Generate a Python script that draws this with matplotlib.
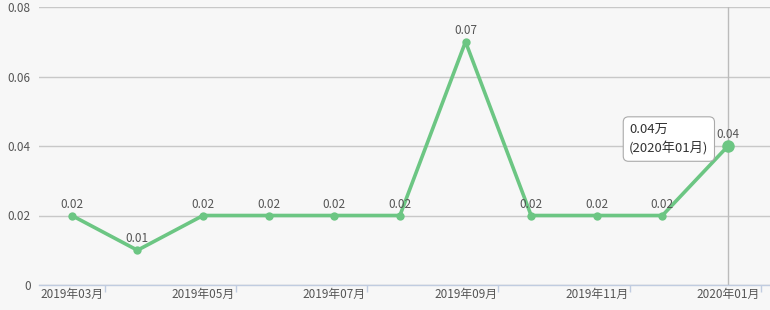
import matplotlib.pyplot as plt
from matplotlib.ticker import FixedLocator, NullFormatter

plt.rcParams['font.family'] = ['Noto Sans CJK SC', 'DejaVu Sans']

# ========== 数据 ==========
months = ['2019年03月', '2019年04月', '2019年05月', '2019年06月', '2019年07月', '2019年08月',
          '2019年09月', '2019年10月', '2019年11月', '2019年12月', '2020年01月']
values = [0.02, 0.01, 0.02, 0.02, 0.02, 0.02, 0.07, 0.02, 0.02, 0.02, 0.04]
yticks = [0, 0.02, 0.04, 0.06, 0.08]
ytick_labels = ['0', '0.02', '0.04', '0.06', '0.08']

LINE_COLOR = '#6cc683'
TEXT_COLOR = '#555555'
BG = '#f7f7f7'

fig = plt.figure(figsize=(7.7, 3.1), dpi=100, facecolor=BG)
ax = fig.add_axes([39 / 770, 25 / 310, 731 / 770, 278 / 310], facecolor=BG)

x = list(range(len(months)))
ax.plot(x, values, color=LINE_COLOR, lw=2.6, marker='o', ms=6,
        markeredgewidth=0, zorder=4, solid_joinstyle='round')
# 最后一个点高亮
ax.plot(x[-1], values[-1], 'o', color=LINE_COLOR, ms=9, markeredgewidth=0, zorder=5)

for i, v in zip(x, values):
    ax.annotate(f'{v:.2f}', (i, v), xytext=(0, 3.5), textcoords='offset points',
                ha='center', va='bottom', fontsize=8.5, color=TEXT_COLOR, zorder=6)

# 坐标轴
ax.set_xlim(-0.5, 10.64)
ax.set_ylim(0, 0.08)
ax.set_yticks(yticks)
ax.set_yticklabels(ytick_labels)
ax.grid(axis='y', color='#c8c8c8', lw=1)
ax.set_axisbelow(True)

ax.xaxis.set_major_locator(FixedLocator(x[::2]))
ax.set_xticklabels(months[::2])
ax.xaxis.set_minor_locator(FixedLocator([i + 0.5 for i in x[::2]]))
ax.xaxis.set_minor_formatter(NullFormatter())
ax.tick_params(axis='x', which='major', length=0, pad=2, labelsize=8.5, labelcolor=TEXT_COLOR)
ax.tick_params(axis='x', which='minor', length=5, color='#c0cce0', width=1)
ax.tick_params(axis='y', length=0, pad=6, labelsize=8.5, labelcolor=TEXT_COLOR)

for side in ['top', 'right', 'left']:
    ax.spines[side].set_visible(False)
ax.spines['bottom'].set_color('#c0cce0')
ax.spines['bottom'].set_linewidth(1)

# 提示框
ax.axvline(x[-1], color='#bbbbbb', lw=1, zorder=2)
ax.annotate(f'{values[-1]:.2f}万\n({months[-1]})', (x[-1], values[-1]),
            xytext=(-14, 5), textcoords='offset points', ha='right', va='center',
            multialignment='left', fontsize=9.5, color='#333333', linespacing=1.5,
            zorder=7,
            bbox=dict(boxstyle='round,pad=0.45,rounding_size=0.4', fc='white',
                      ec='#aaaaaa', lw=0.8))

fig.savefig('out.png', dpi=100, facecolor=BG)
